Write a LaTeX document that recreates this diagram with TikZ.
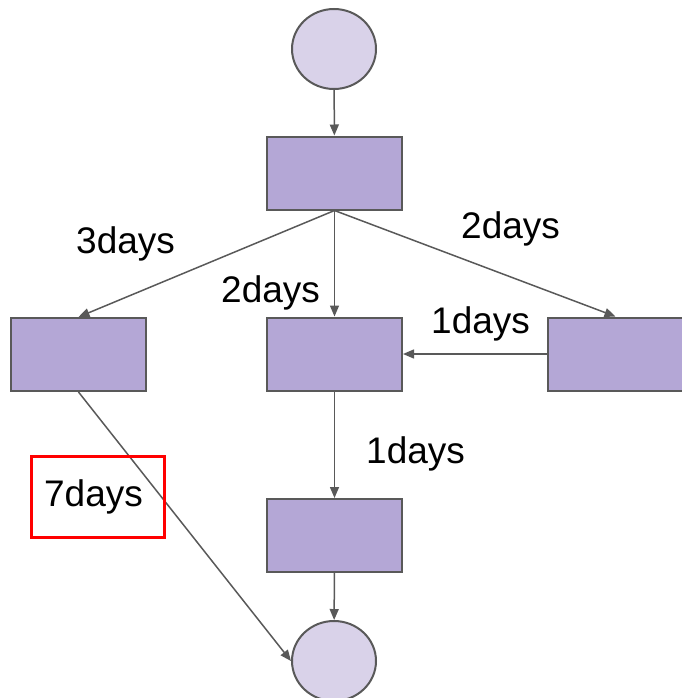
\documentclass[tikz,border=0pt]{standalone}
\usepackage{fontspec}
\setmainfont{Liberation Sans}
\usetikzlibrary{shapes.geometric, arrows.meta}
\definecolor{edgegray}{HTML}{595959}
\definecolor{taskfill}{HTML}{B4A7D6}
\definecolor{eventfill}{HTML}{D9D2E9}
\begin{document}
\begin{tikzpicture}[x = 1pt, y = -1pt,
        event/.style={ellipse, draw=edgegray, fill=eventfill, line width=2pt, minimum width=84pt, minimum height=80pt},
        task/.style={rectangle, draw=edgegray, fill=taskfill, line width=2pt, minimum width=135pt, minimum height=73pt},
        days/.style={inner sep=0pt, anchor=base west, font=\fontsize{37}{44}\selectfont}
]
    \useasboundingbox (0,0) rectangle (681,698);
    \node[event] (start) at (334,49) {};
    \node[task] (t) at (334.5,173) {};
    \node[task] (l) at (78.5,354.5) {};
    \node[task] (m) at (334.5,354) {};
    \node[task] (r) at (615.5,354) {};
    \node[task] (b) at (334.5,535.5) {};
    \node[event] (end) at (334,661) {};

\begin{scope}[every path/.style={-{Triangle[length=11pt, width=9pt]}, line width=1.5pt, draw=edgegray}]
    \draw (start) -- (t);
    \draw (t.south) -- (l.north);
    \draw (t.south) -- (m.north);
    \draw (t.south) -- (r.north);
    \draw (r.west) -- (m.east);
    \draw (m) -- (b);
    \draw (b) -- (end);
    \draw (l.south) -- (end.west);
\end{scope}

    \node[days] (d3) at (76,253) {3days};
    \node[days] (d2m) at (221,302) {2days};
    \node[days] (d2r) at (461,238) {2days};
    \node[days] (d1r) at (431,333) {1days};
    \node[days] (d1b) at (366,463) {1days};
    \node[draw=red, line width=3pt, minimum width=133pt, minimum height=81pt, inner sep=0pt,
          font=\fontsize{37}{44}\selectfont] (d7) at (98,497) {7days\hspace*{9pt}};
\end{tikzpicture}
\end{document}
